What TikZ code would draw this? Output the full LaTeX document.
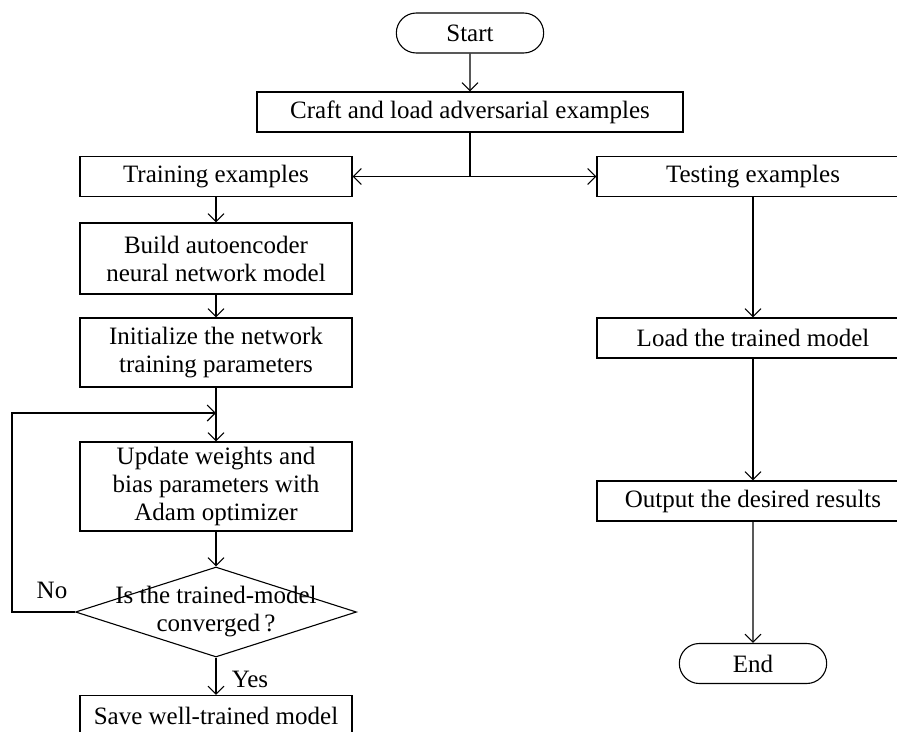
\documentclass[tikz,border=0pt]{standalone}
\usepackage{fontspec}
\setmainfont{Liberation Serif}
\usetikzlibrary{arrows.meta,shapes.misc,shapes.geometric}
\tikzset{
  box/.style={draw,line width=1.1pt,rectangle,minimum height=40pt,inner sep=2pt,align=center,font=\fontsize{25}{28}\selectfont},
  term/.style={draw,line width=1.1pt,rounded rectangle,minimum width=154pt,minimum height=40pt,font=\fontsize{25}{28}\selectfont},
  lbl/.style={font=\fontsize{25}{28}\selectfont,align=center,inner sep=0pt},
  conn/.style={line width=1.1pt,-{Straight Barb[length=8pt,width=16pt,line width=1.1pt]}},
  plain/.style={line width=1.1pt}
}
\begin{document}
\begin{tikzpicture}[x=1pt,y=-1pt]
\useasboundingbox (0,0) rectangle (897,731);
\node[term] (start) at (470,33) {Start};
\node[box,minimum width=426pt] (craft) at (470,112) {Craft and load adversarial examples};
\node[box,minimum width=272pt] (train) at (216,176.5) {Training examples};
\node[box,minimum width=312pt] (test) at (753,176.5) {Testing examples};
\node[box,minimum width=272pt,minimum height=71pt] (build) at (216,258.5) {Build autoencoder\\neural network model};
\node[box,minimum width=272pt,minimum height=69pt] (init) at (216,352.5) {Initialize the network\\training parameters};
\node[box,minimum width=272pt,minimum height=89pt] (upd) at (216,486.5) {Update weights and\\bias parameters with\\Adam optimizer};
\node[draw,line width=1.1pt,diamond,minimum width=281pt,minimum height=90pt,inner sep=0pt] (dec) at (216,612) {};
\node[lbl] (dectext) at (216,612) {Is the trained-model\\converged\,?};
\node[box,minimum width=272pt] (save) at (216,715.5) {Save well-trained model};
\node[box,minimum width=312pt] (load) at (753,338) {Load the trained model};
\node[box,minimum width=312pt] (out) at (753,501) {Output the desired results};
\node[term] (end) at (753,663.5) {End};
\node[lbl] (no) at (52,590) {No};
\node[lbl] (yes) at (250,679) {Yes};
\coordinate (split) at (470,176.5);
\coordinate (loopin) at (216,413);
\coordinate (loopcorner) at (12,612);
\draw[conn] (start) -- (craft);
\draw[plain] (craft.south) -- (split);
\draw[line width=1.1pt,{Straight Barb[length=8pt,width=16pt,line width=1.1pt]}-{Straight Barb[length=8pt,width=16pt,line width=1.1pt]}] (train.east) -- (test.west);
\draw[conn] (train) -- (build);
\draw[conn] (build) -- (init);
\draw[conn] (init) -- (upd);
\draw[conn] (upd) -- (dec.north);
\draw[conn] (dec.south) -- (save.north);
\draw[conn] (dec.west) -- (loopcorner) |- (loopin);
\draw[conn] (test) -- (load);
\draw[conn] (load) -- (out);
\draw[conn] (out) -- (end);
\end{tikzpicture}
\end{document}
